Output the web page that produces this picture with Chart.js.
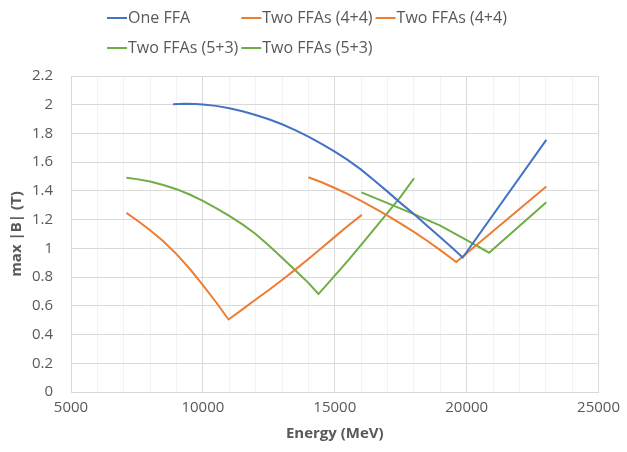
<!DOCTYPE html>
<html>
<head>
<meta charset="utf-8">
<script src="https://cdn.jsdelivr.net/npm/chart.js@4.4.1/dist/chart.umd.min.js"></script>
<style>
  html, body { margin: 0; padding: 0; background: #fff; }
  canvas { display: block; }
</style>
</head>
<body>
<canvas id="chart" width="627" height="452"></canvas>
<script>
// One FFA
const oneE = [8870, 9300, 9700, 10000, 10500, 11000, 11500, 12000, 12500, 13000, 13500, 14000, 14500,
              15000, 15500, 16000, 16500, 17000, 17500, 18000, 18500, 19000, 19500, 19850, 23020];
const oneB = [2.003, 2.007, 2.005, 2.002, 1.992, 1.976, 1.955, 1.929, 1.899, 1.864, 1.823, 1.778, 1.728,
              1.674, 1.614, 1.548, 1.473, 1.395, 1.315, 1.24, 1.158, 1.077, 0.995, 0.936, 1.755];

// Two FFAs (4+4), first and second ring
const fourAE = [7100, 7500, 8000, 8500, 9000, 9500, 10000, 10500, 10975,
                11500, 12000, 12500, 13000, 13500, 14000, 14500, 15000, 15500, 16025];
const fourAB = [1.247, 1.196, 1.126, 1.05, 0.96, 0.858, 0.744, 0.625, 0.505,
                0.575, 0.644, 0.71, 0.78, 0.852, 0.926, 1.002, 1.08, 1.157, 1.233];
const fourBE = [14000, 14500, 15000, 15500, 16000, 16500, 17000, 17500, 18000, 18500, 19000, 19605, 23020];
const fourBB = [1.495, 1.46, 1.42, 1.377, 1.33, 1.28, 1.228, 1.172, 1.115, 1.053, 0.988, 0.905, 1.43];

// Two FFAs (5+3), first and second ring
const fiveAE = [7100, 7500, 8000, 8500, 9000, 9500, 10000, 10500, 11000, 11500, 12000, 12500, 13000,
                13500, 14000, 14380, 15000, 15500, 16000, 16500, 17000, 17500, 18006];
const fiveAB = [1.492, 1.482, 1.465, 1.441, 1.412, 1.375, 1.33, 1.28, 1.226, 1.167, 1.1, 1.02, 0.935,
                0.848, 0.76, 0.682, 0.81, 0.915, 1.025, 1.135, 1.247, 1.36, 1.488];
const fiveBE = [16010, 17000, 18000, 19000, 20000, 20850, 23020];
const fiveBB = [1.39, 1.315, 1.238, 1.158, 1.058, 0.97, 1.321];

const seriesNames = ['One FFA', 'Two FFAs (4+4)', 'Two FFAs (4+4)', 'Two FFAs (5+3)', 'Two FFAs (5+3)'];
const seriesColors = ['#4472C4', '#ED7D31', '#ED7D31', '#70AD47', '#70AD47'];

const xTicks = [5000, 10000, 15000, 20000, 25000];
const yTicks = [0, 0.2, 0.4, 0.6, 0.8, 1, 1.2, 1.4, 1.6, 1.8, 2, 2.2];

const toPoints = (xs, ys) => xs.map((x, i) => ({ x: x, y: ys[i] }));
const seriesData = [
    toPoints(oneE, oneB),
    toPoints(fourAE, fourAB),
    toPoints(fourBE, fourBB),
    toPoints(fiveAE, fiveAB),
    toPoints(fiveBE, fiveBB)
];

const font = "'Open Sans', sans-serif";
const textColor = '#595959';

// Excel-style legend: fixed-width columns, 3 per row
const columnLegend = {
    id: 'columnLegend',
    afterDraw(chart) {
        const ctx = chart.ctx;
        const sets = chart.data.datasets;
        ctx.save();
        ctx.font = "16px " + font;
        const textW = Math.max(...sets.map(d => ctx.measureText(d.label).width));
        const sample = 20, gap = 1;
        const colW = sample + gap + textW + 3;
        const startX = 107, startY = 18, rowH = 30;
        sets.forEach((d, i) => {
            const x = startX + (i % 3) * colW;
            const y = startY + Math.floor(i / 3) * rowH;
            ctx.strokeStyle = d.borderColor;
            ctx.lineWidth = 2;
            ctx.beginPath();
            ctx.moveTo(x, y);
            ctx.lineTo(x + sample, y);
            ctx.stroke();
            ctx.fillStyle = textColor;
            ctx.textBaseline = 'middle';
            ctx.textAlign = 'left';
            ctx.fillText(d.label, x + sample + gap, y);
        });
        ctx.restore();
    }
};

new Chart(document.getElementById('chart'), {
    type: 'scatter',
    data: {
        datasets: seriesData.map((pts, i) => ({
            label: seriesNames[i],
            data: pts,
            showLine: true,
            borderColor: seriesColors[i],
            backgroundColor: seriesColors[i],
            borderWidth: 2,
            pointRadius: 0,
            pointHoverRadius: 0,
            tension: 0
        }))
    },
    options: {
        responsive: false,
        animation: false,
        layout: { padding: { top: 76, right: 27, bottom: 0, left: 0 } },
        plugins: {
            legend: { display: false },
            tooltip: { enabled: false }
        },
        scales: {
            x: {
                type: 'linear',
                min: xTicks[0],
                max: xTicks[xTicks.length - 1],
                afterBuildTicks: s => {
                    const t = [];
                    for (let v = s.min; v <= s.max; v += 1000) t.push({ value: v });
                    s.ticks = t;
                },
                afterFit: s => { s.height = 60; },
                ticks: {
                    autoSkip: false,
                    maxRotation: 0,
                    padding: 7,
                    color: textColor,
                    font: { family: font, size: 15 },
                    callback: v => xTicks.includes(v) ? String(v) : ''
                },
                grid: {
                    drawTicks: false,
                    color: c => (c.tick && xTicks.includes(c.tick.value)) ? '#D9D9D9' : '#F2F2F2'
                },
                border: { color: '#D9D9D9' },
                title: {
                    display: true,
                    text: 'Energy (MeV)',
                    color: textColor,
                    font: { family: font, size: 15, weight: 'bold' },
                    padding: { top: 4, bottom: 9 }
                }
            },
            y: {
                type: 'linear',
                min: yTicks[0],
                max: yTicks[yTicks.length - 1],
                afterBuildTicks: s => { s.ticks = yTicks.map(v => ({ value: v })); },
                afterFit: s => { s.width = 71; },
                ticks: {
                    padding: 18,
                    color: textColor,
                    font: { family: font, size: 15 },
                    callback: v => String(Number(v.toFixed(1)))
                },
                grid: { drawTicks: false, color: '#D9D9D9' },
                border: { color: '#D9D9D9' },
                title: {
                    display: true,
                    text: 'max |B| (T)',
                    color: textColor,
                    font: { family: font, size: 15, weight: 'bold' },
                    padding: { top: 8, bottom: 0 }
                }
            }
        }
    },
    plugins: [columnLegend]
});
</script>
</body>
</html>
